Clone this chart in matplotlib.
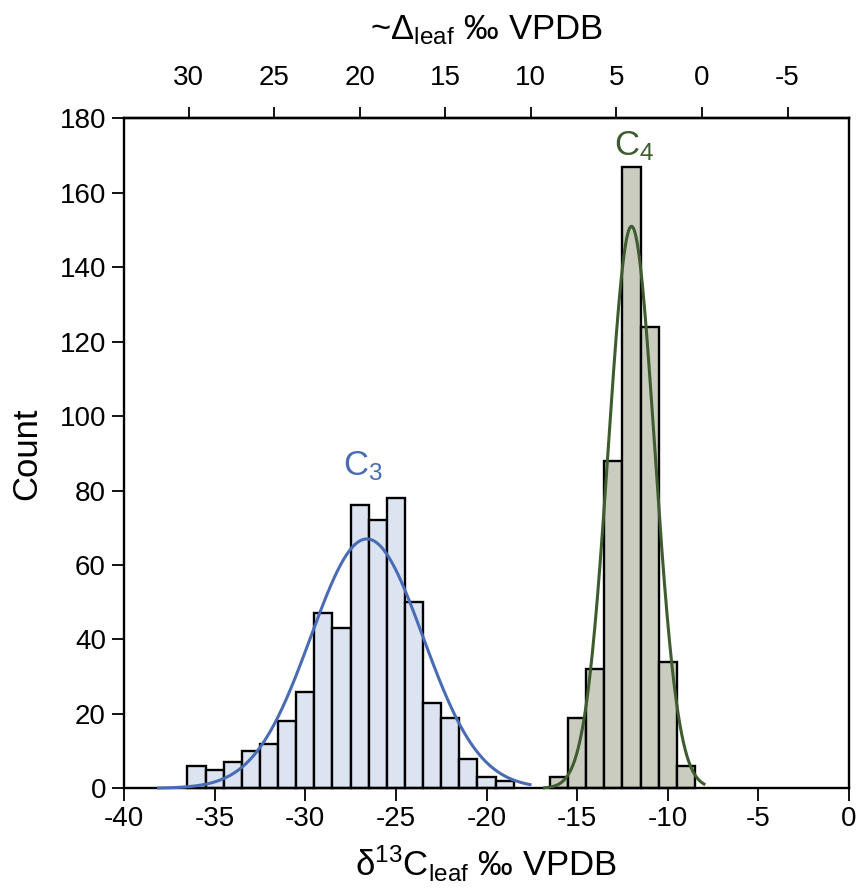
import numpy as np
import matplotlib.pyplot as plt

plt.rcParams['font.family'] = ['Liberation Sans', 'DejaVu Sans']
plt.rcParams['mathtext.fontset'] = 'custom'
plt.rcParams['mathtext.rm'] = 'Liberation Sans'
plt.rcParams['mathtext.it'] = 'Liberation Sans:italic'
plt.rcParams['mathtext.bf'] = 'Liberation Sans:bold'
plt.rcParams['axes.unicode_minus'] = False

# histogram counts, 1 permil bins centred on integers
c3_centers = [-36, -35, -34, -33, -32, -31, -30, -29, -28, -27, -26, -25, -24, -23, -22, -21, -20, -19]
c3_counts = [6, 5, 7, 10, 12, 18, 26, 47, 43, 76, 72, 78, 50, 23, 19, 8, 3, 2]
c4_centers = [-16, -15, -14, -13, -12, -11, -10, -9]
c4_counts = [3, 19, 32, 88, 167, 124, 34, 6]

# normal fits: mean, sd, peak height, drawn range
c3_fit = dict(mean=-26.6, sd=3.1, peak=67, lo=-38.1, hi=-17.6)
c4_fit = dict(mean=-12.0, sd=1.28, peak=151, lo=-16.8, hi=-8.0)

# approx. conversion delta13C -> Delta (top axis)
def d13_to_D(d):
    return -1.059 * (np.asarray(d) + 8.11)

def D_to_d13(D):
    return -np.asarray(D) / 1.059 - 8.11

c3_fill, c3_line = '#dce4f2', '#4a6cb5'
c4_fill, c4_line = '#c9ccbe', '#3e5c30'

fig = plt.figure(figsize=(8.58, 8.89), dpi=100)
ax = fig.add_axes([124 / 858, 0.1133, 725 / 858, 0.7535])

ax.bar(c3_centers, c3_counts, width=1.0, color=c3_fill, edgecolor='black',
       linewidth=1.7, zorder=2, clip_on=False)
ax.bar(c4_centers, c4_counts, width=1.0, color=c4_fill, edgecolor='black',
       linewidth=1.7, zorder=2, clip_on=False)

for fit, col in [(c3_fit, c3_line), (c4_fit, c4_line)]:
    xs = np.linspace(fit['lo'], fit['hi'], 400)
    ys = fit['peak'] * np.exp(-0.5 * ((xs - fit['mean']) / fit['sd']) ** 2)
    ax.plot(xs, ys, color=col, lw=2.2, zorder=3, clip_on=False)

ax.text(-26.8, 84, r'C$_3$', color=c3_line, fontsize=25, ha='center', va='baseline')
ax.text(-11.85, 170, r'C$_4$', color=c4_line, fontsize=25, ha='center', va='baseline')

ax.set_xlim(-40, 0)
ax.set_ylim(0, 180)
ax.set_xticks(np.arange(-40, 1, 5))
ax.set_yticks(np.arange(0, 181, 20))
ax.tick_params(direction='out', length=9, width=1.3, labelsize=20, pad=4)
for sp in ax.spines.values():
    sp.set_linewidth(1.7)

ax.set_xlabel(r'δ$^{13}$C$_{\mathrm{leaf}}$ ‰ VPDB', fontsize=25, labelpad=8)
ax.set_ylabel('Count', fontsize=25, labelpad=12)

secax = ax.secondary_xaxis('top', functions=(d13_to_D, D_to_d13))
secax.set_xticks([30, 25, 20, 15, 10, 5, 0, -5])
secax.tick_params(direction='out', length=8, width=1.3, labelsize=20, pad=12)
secax.spines['top'].set_linewidth(1.7)
secax.set_xlabel(r'~$\Delta_{\mathrm{leaf}}$ ‰ VPDB', fontsize=25, labelpad=18)

fig.savefig('out.png', dpi=100)
